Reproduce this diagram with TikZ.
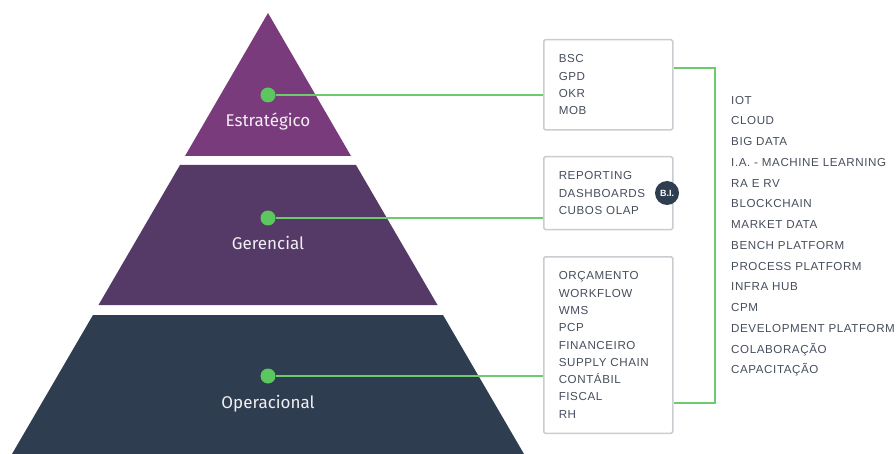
\documentclass[tikz,border=0pt]{standalone}
\usepackage{fontspec}
\setmainfont{Liberation Sans}
\newfontfamily\levelfont{Fira Sans}
\newfontfamily\itemfont[LetterSpace=5]{Liberation Sans}

\definecolor{stratcol}{HTML}{7A3B7C}
\definecolor{gercol}{HTML}{553A67}
\definecolor{opcol}{HTML}{2E3D50}
\definecolor{dotcol}{HTML}{5CC65F}
\definecolor{linkcol}{HTML}{6DCB6E}
\definecolor{boxcol}{HTML}{C9CCD1}
\definecolor{itemcol}{HTML}{464E5C}

\tikzset{
  dot/.style={circle,fill=dotcol,minimum size=15,inner sep=0},
  level/.style={anchor=base,text=white!92!gercol,font={\levelfont\fontsize{17}{17}\selectfont}},
  itembox/.style={draw=boxcol,line width=1.5,rounded corners=1.5,fill=white,anchor=north west,
    text width=99,align=left,inner xsep=15,inner ysep=15,text=itemcol,
    font={\itemfont\fontsize{11.6}{17.3}\selectfont}},
  techlist/.style={anchor=north west,inner sep=0,text width=170,align=left,text=itemcol,
    font={\itemfont\fontsize{11.6}{20.75}\selectfont}},
  bibadge/.style={circle,fill=opcol,text=white,minimum size=24,inner sep=0,
    font={\bfseries\fontsize{9}{9}\selectfont}},
  link/.style={draw=linkcol,line width=1.6}
}

\begin{document}
\begin{tikzpicture}[x=1pt,y=-1pt]
\useasboundingbox (0,0) rectangle (896,454);

\fill[stratcol] (268,13) -- (351,156) -- (185,156) -- cycle;
\fill[gercol] (180,165) -- (356,165) -- (437.5,305) -- (98.5,305) -- cycle;
\fill[opcol] (93,315) -- (443,315) -- (524,454) -- (12,454) -- cycle;

\draw (268,95) node(D1)[dot]{};
\draw (268,218) node(D2)[dot]{};
\draw (268,376) node(D3)[dot]{};

\draw (268,127) node(L1)[level]{Estratégico};
\draw (268,250) node(L2)[level]{Gerencial};
\draw (268,408) node(L3)[level]{Operacional};

\draw (543,39) node(B1)[itembox]{BSC\\GPD\\OKR\\MOB};
\draw (543,156) node(B2)[itembox]{REPORTING\\DASHBOARDS\\CUBOS OLAP};
\draw (543,256) node(B3)[itembox]{ORÇAMENTO\\WORKFLOW\\WMS\\PCP\\FINANCEIRO\\SUPPLY CHAIN\\CONTÁBIL\\FISCAL\\RH};
\draw (667,193) node(BI)[bibadge]{B.I.};

\coordinate (T1) at (715,68);
\coordinate (T3) at (715,403);

\draw[link] (D1) -- (D1 -| B1.west);
\draw[link] (D2) -- (D2 -| B2.west);
\draw[link] (D3) -- (D3 -| B3.west);
\draw[link] (B1.east |- T1) -- (T1) -- (T3) -- (B3.east |- T3);

\draw (731,95.9) node(TECH)[techlist]{IOT\\CLOUD\\BIG DATA\\I.A. - MACHINE LEARNING\\RA E RV\\BLOCKCHAIN\\MARKET DATA\\BENCH PLATFORM\\PROCESS PLATFORM\\INFRA HUB\\CPM\\DEVELOPMENT PLATFORM\\COLABORAÇÃO\\CAPACITAÇÃO};

\end{tikzpicture}
\end{document}
